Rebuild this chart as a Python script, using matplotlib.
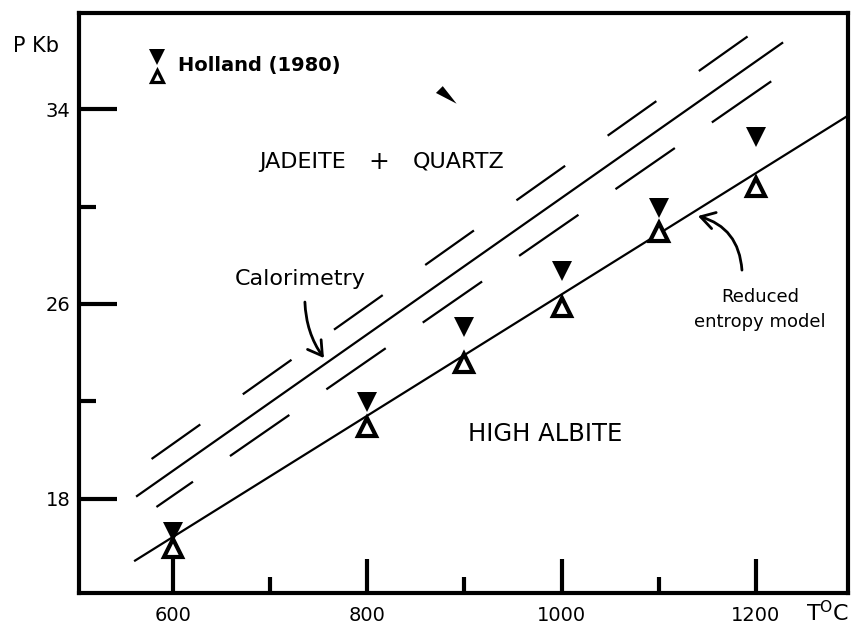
import matplotlib.pyplot as plt
from matplotlib.patches import FancyArrowPatch

plt.rcParams['lines.scale_dashes'] = False
plt.rcParams['mathtext.default'] = 'regular'

# Holland (1980) points
temps = [600, 800, 900, 1000, 1100, 1200]
p_filled = [16.65, 21.98, 25.06, 27.35, 29.94, 32.85]
p_open = [16.0, 20.95, 23.58, 25.88, 28.95, 30.80]

# curves (end points)
reduced_t = [561, 1294]
reduced_p = [15.47, 33.71]
calor_t = [563, 1227]
calor_p = [18.12, 36.71]
upper_t = [578, 1195]
upper_p = [19.64, 37.08]
lower_t = [583, 1243]
lower_p = [17.67, 35.89]

xticks_major = [600, 800, 1000, 1200]
xticks_minor = [700, 900, 1100]
yticks_major = [18, 26, 34]
yticks_minor = [22, 30]

fig = plt.figure(figsize=(8.53, 6.26), dpi=100)
ax = fig.add_axes([0.0926, 0.0527, 0.9015, 0.9265])
ax.set_xlim(503.3, 1294.7)
ax.set_ylim(14.14, 37.94)

ax.plot(reduced_t, reduced_p, 'k-', lw=1.6)
ax.plot(calor_t, calor_p, 'k-', lw=1.6)
ax.plot(upper_t, upper_p, 'k', lw=1.6, ls=(0, (43, 37.5)))
ax.plot(lower_t, lower_p, 'k', lw=1.6, ls=(20, (52, 32.4)))

ax.plot(temps, p_filled, 'kv', ms=15, mew=0, zorder=3)
ax.plot(temps, p_open, '^', ms=13, mfc='white', mec='black', mew=3, zorder=3)

# legend
ax.plot([584], [36.15], 'kv', ms=11, mew=0, clip_on=False)
ax.plot([584], [35.37], '^', ms=8.5, mfc='white', mec='black', mew=2.3, clip_on=False)
ax.text(605, 35.8, 'Holland (1980)', fontsize=14, fontweight='bold', ha='left', va='center')

# stray mark
ax.plot([880], [34.6], marker=[(-8, 1.3), (-2.3, 7), (9.3, -7.7)], ms=16, color='black', mew=0)

ax.text(733, 31.83, 'JADEITE', fontsize=16, ha='center', va='center')
ax.text(812, 31.83, '+', fontsize=18, ha='center', va='center')
ax.text(894, 31.83, 'QUARTZ', fontsize=16, ha='center', va='center')
ax.text(983, 20.67, 'HIGH ALBITE', fontsize=17.5, ha='center', va='center')
ax.text(731, 26.78, 'Calorimetry', fontsize=16, ha='center', va='baseline')
ax.text(1204, 26.08, 'Reduced', fontsize=13, ha='center', va='baseline')
ax.text(1204, 25.06, 'entropy model', fontsize=13, ha='center', va='baseline')

ax.add_patch(FancyArrowPatch((735.8, 26.08), (755.4, 23.78), connectionstyle='arc3,rad=0.15',
                             arrowstyle='->,head_length=0.5,head_width=0.3', mutation_scale=20,
                             lw=2, color='black', shrinkA=0, shrinkB=0))
ax.add_patch(FancyArrowPatch((1185.6, 27.39), (1140.3, 29.61), connectionstyle='arc3,rad=0.35',
                             arrowstyle='->,head_length=0.5,head_width=0.3', mutation_scale=20,
                             lw=2, color='black', shrinkA=0, shrinkB=0))

ax.text(459.5, 36.6, 'P Kb', fontsize=15, ha='center', va='center', clip_on=False)
ax.text(1251, 13.0, r'T$^{O}$C', fontsize=16, ha='left', va='baseline', clip_on=False)

ax.set_xticks(xticks_major)
ax.set_xticks(xticks_minor, minor=True)
ax.set_yticks(yticks_major)
ax.set_yticks(yticks_minor, minor=True)
ax.xaxis.set_tick_params(which='major', direction='in', length=24.5, width=3, pad=9.5, labelsize=14)
ax.xaxis.set_tick_params(which='minor', direction='in', length=11.5, width=3)
ax.yaxis.set_tick_params(which='major', direction='in', length=27, width=3, pad=6, labelsize=14)
ax.yaxis.set_tick_params(which='minor', direction='in', length=12.5, width=3)
for s in ax.spines.values():
    s.set_linewidth(3)

plt.savefig('out.png', dpi=100)
